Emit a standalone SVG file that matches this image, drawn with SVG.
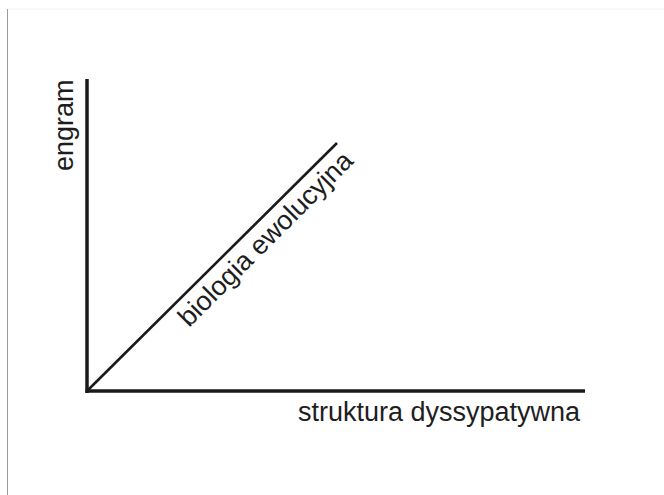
<svg xmlns="http://www.w3.org/2000/svg" width="664" height="495" viewBox="0 0 664 495">
<style>
.lbl{font-family:"Liberation Sans",Arial,sans-serif;font-size:27px;fill:#1e1e1e}
.ax{stroke:#1a1a1a;stroke-width:3.5;fill:none}
</style>
<rect width="664" height="495" fill="#ffffff"/>
<line x1="7.5" y1="9" x2="664" y2="9" stroke="#f2f2f2" stroke-width="1"/>
<line x1="7.5" y1="9" x2="7.5" y2="495" stroke="#9a9a9a" stroke-width="1"/>
<g id="connectors">
<line class="ax" x1="87" y1="79" x2="87" y2="393"/>
<line class="ax" x1="85.5" y1="391" x2="585" y2="391"/>
<line x1="88" y1="390" x2="337" y2="143" stroke="#1a1a1a" stroke-width="2.6"/>
</g>
<g id="engram"><text class="lbl" transform="translate(73,171) rotate(-90)">engram</text></g>
<g id="struktura"><text class="lbl" x="298" y="421">struktura dyssypatywna</text></g>
<g id="biologia"><text class="lbl" transform="translate(189,328) rotate(-45)">biologia ewolucyjna</text></g>
</svg>
